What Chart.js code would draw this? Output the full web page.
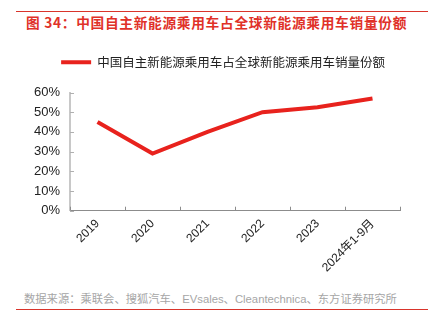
<!DOCTYPE html>
<html lang="zh">
<head>
<meta charset="UTF-8">
<title>中国自主新能源乘用车占全球新能源乘用车销量份额</title>
<script src="https://cdn.jsdelivr.net/npm/chart.js@4.4.0/dist/chart.umd.min.js"></script>
<style>
    body { margin: 0; background: #fff; width: 431px; height: 328px; position: relative; overflow: hidden;
           font-family: "Liberation Sans", "Noto Sans CJK SC", sans-serif; }
    .rule { position: absolute; left: 16px; width: 412px; height: 1px; background: #d9342b; }
    #title { position: absolute; left: 26px; top: 12px; font-size: 13.7px; font-weight: bold; color: #e03128;
             letter-spacing: 0.7px; font-family: "Noto Sans CJK SC", sans-serif; white-space: nowrap; }
    #source { position: absolute; left: 24px; top: 290px; font-size: 11.3px; color: #a6a6a6; white-space: nowrap;
              font-family: "Liberation Sans", "Noto Sans CJK SC", sans-serif; }
    .chartdiv { position: absolute; left: 0; top: 40px; width: 431px; height: 241px; }
</style>
</head>
<body>
    <div class="rule" style="top:11px"></div>
    <div id="title">图 34：中国自主新能源乘用车占全球新能源乘用车销量份额</div>
    <div class="chartdiv"><canvas id="myChart"></canvas></div>
    <div id="source">数据来源：乘联会、搜狐汽车、EVsales、Cleantechnica、东方证券研究所</div>
    <div class="rule" style="top:309px"></div>
<script>
    // data
    const years = ["2019", "2020", "2021", "2022", "2023", "2024年1-9月"];
    const share = [0.45, 0.29, 0.40, 0.50, 0.525, 0.57];
    const seriesName = "中国自主新能源乘用车占全球新能源乘用车销量份额";
    const yTicks = [0, 0.1, 0.2, 0.3, 0.4, 0.5, 0.6];

    // short tick marks pointing into the plot, like the original
    const innerTicks = {
        id: "innerTicks",
        afterDraw(chart) {
            const ctx = chart.ctx;
            const x = chart.scales.x;
            const y = chart.scales.y;
            ctx.save();
            ctx.lineWidth = 1;
            ctx.strokeStyle = "#8c8c8c";
            const step = (x.right - x.left) / years.length;
            for (let i = 0; i <= years.length; i++) {
                const px = Math.round(x.left + i * step) + 0.5;
                ctx.beginPath();
                ctx.moveTo(px, y.bottom);
                ctx.lineTo(px, y.bottom - 4);
                ctx.stroke();
            }
            ctx.strokeStyle = "#b0b0b0";
            yTicks.forEach(v => {
                const py = Math.round(y.getPixelForValue(v)) + 0.5;
                ctx.beginPath();
                ctx.moveTo(x.left, py);
                ctx.lineTo(x.left + 4, py);
                ctx.stroke();
            });
            ctx.restore();
        }
    };

    // extra room under the legend, and nudge it right like the original
    const legendTweak = {
        id: "legendTweak",
        beforeInit(chart) {
            const fit = chart.legend.fit;
            chart.legend.fit = function () {
                fit.bind(chart.legend)();
                this.height += 14;
            };
        },
        afterLayout(chart) {
            chart.legend.left += 11;
            chart.legend.right += 11;
        }
    };

    new Chart("myChart", {
        type: "line",
        data: {
            labels: years,
            datasets: [{
                label: seriesName,
                data: share,
                borderColor: "#e8221d",
                backgroundColor: "#e8221d",
                borderWidth: 4,
                pointRadius: 0,
                tension: 0
            }]
        },
        options: {
            responsive: true,
            maintainAspectRatio: false,
            animation: false,
            layout: { padding: { left: 24, right: 31, top: 6, bottom: 0 } },
            plugins: {
                tooltip: { enabled: false },
                legend: {
                    labels: {
                        boxWidth: 30,
                        boxHeight: 4,
                        color: "#222",
                        font: { size: 12.5, family: "'Noto Sans CJK SC', sans-serif" },
                        padding: 10,
                        generateLabels(chart) {
                            return Chart.defaults.plugins.legend.labels.generateLabels(chart)
                                .map(l => Object.assign(l, { lineWidth: 0 }));
                        }
                    }
                }
            },
            scales: {
                x: {
                    offset: true,
                    grid: { display: false, drawTicks: false },
                    border: { color: "#8c8c8c", width: 1 },
                    ticks: {
                        color: "#222",
                        font: { size: 12, family: "'Liberation Sans', 'Noto Sans CJK SC', sans-serif" },
                        maxRotation: 45, minRotation: 45,
                        padding: 6
                    }
                },
                y: {
                    min: 0, max: 0.6,
                    grid: { display: false, drawTicks: false },
                    border: { color: "#c8c8c8", width: 2 },
                    afterBuildTicks(scale) { scale.ticks = yTicks.map(v => ({ value: v })); },
                    ticks: {
                        color: "#222",
                        font: { size: 13, family: "'Liberation Sans', sans-serif" },
                        padding: 10,
                        callback: v => Math.round(v * 100) + "%"
                    }
                }
            }
        },
        plugins: [innerTicks, legendTweak]
    });
</script>
</body>
</html>
